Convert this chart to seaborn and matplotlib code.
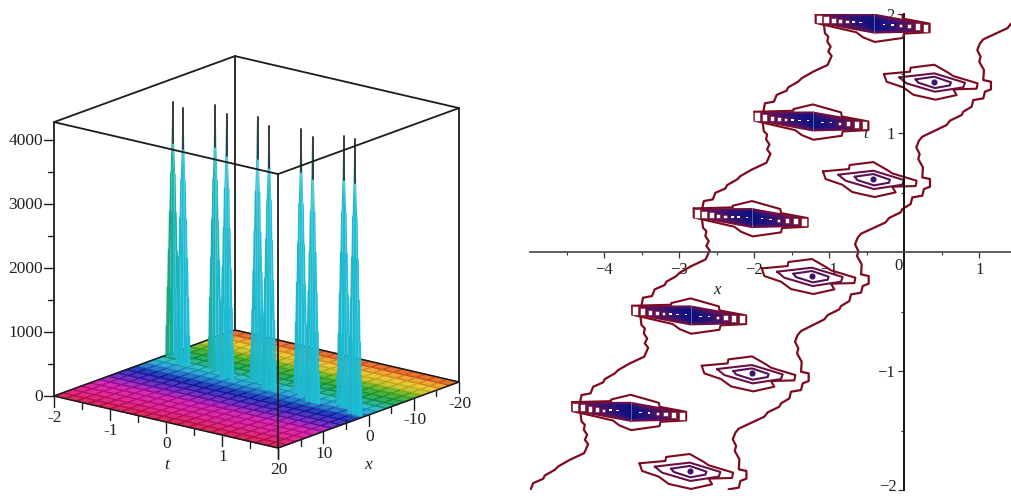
import numpy as np
import matplotlib
matplotlib.use("Agg")
import matplotlib.pyplot as plt
from matplotlib.collections import PolyCollection
import seaborn as sns

# ---------- data: 3D panel ----------
SPIKE_T = [-1.87, -1.52, -1.02, -0.654, -0.20, 0.167, 0.666, 1.03, 1.49, 1.85]
SPIKE_X = [-4.65, -2.57, -3.47, -1.50, -2.70, -0.70, -1.60, 0.35, -0.86, 1.16]
SPIKE_Z = [3990, 4020, 4140, 4125, 4140, 4130, 4156, 4160, 4230, 4310]
PROFILE_FRAC = [0.0, 0.12, 0.12, 0.27, 0.27, 0.42, 0.42, 0.57, 0.57, 0.72, 0.72, 0.84, 1.0]
PROFILE_HALF_T = [0.135, 0.128, 0.118, 0.110, 0.100, 0.090, 0.080, 0.070, 0.060, 0.050, 0.040, 0.024, 0.010]
T_MAJOR = [-2, -1, 0, 1, 2]
T_MINOR = [-1.5, -0.5, 0.5, 1.5]
X_MAJOR = [20, 10, 0, -10, -20]
X_MINOR = [15, 5, -5, -15]
Z_MAJOR = [0, 1000, 2000, 3000, 4000]
Z_MINOR = [500, 1500, 2500, 3500]
T_LABELS = ["-2", "-1", "0", "1", "20"]
X_LABELS = ["", "10", "0", "-10", "-20"]
Z_TOP = 4280
N_CELLS = 20
HUE_STOPS = [0.0, 0.12, 0.24, 0.33, 0.42, 0.50, 0.56, 0.61, 0.68, 0.76, 0.83, 0.89, 0.95, 1.0]
HUE_COLORS = ["#cc0c38", "#d80c80", "#c80ca8", "#5a14b8", "#0c1cb0", "#1480cc", "#18bcdc",
              "#14aa8c", "#10a040", "#38ac18", "#c8c018", "#ecc020", "#ec7c18", "#dc4018"]

# ---------- data: contour panel ----------
HIGH_X = [-0.404, -1.22, -2.03, -2.85, -3.65]
HIGH_T = [1.922, 1.10, 0.288, -0.53, -1.34]
LOW_X = [0.40, -0.413, -1.23, -2.03, -2.86]
LOW_T = [1.431, 0.613, -0.202, -1.02, -1.84]
RIDGE_EXTRA_HIGH = (-4.46, -2.155)
RIDGE_EXTRA_LOW = (1.213, 2.246)

# contour shapes, offsets from the peak in x / t units
def dxv(v): return np.array(v) / 225.0
def dtv(v): return -np.array(v) / 357.0

RIDGE_L_DX = dxv([-150, -147, -137, -140, -130, -137, -127, -139, -182, -217, -227, -257, -262, -292, -300, -327, -332])
RIDGE_L_DT = dtv([5, 30, 40, 55, 70, 85, 98, 125, 145, 165, 175, 192, 202, 215, 235, 240, 265])
RIDGE_R_DX = dxv([147, 137, 129, 139, 135, 149, 147, 170, 170, 152, 147, 117, 112, 87, 82, 47, 37])
RIDGE_R_DT = dtv([-127, -115, -95, -75, -60, -35, -5, 0, 23, 30, 50, 55, 75, 90, 100, 117, 130])

LOW_OUTER_DX = dxv([-151, -73, -71, 0, 42, 57, 130, 127, 57, 67, 4, -63, -93, -143, -151])
LOW_OUTER_DT = dtv([-23, -30, -42, -51, -27, -17, 5, 21, 23, 40, 54, 39, 17, 0, -23])
LOW_MID_DX = dxv([-105, 0, 92, 87, 2, -83, -105])
LOW_MID_DT = dtv([-13, -25, 3, 17, 30, 5, -13])
LOW_IN_DX = dxv([-56, 0, 50, 47, 2, -48, -56])
LOW_IN_DT = dtv([-7, -15, 2, 11, 19, 3, -7])

HIGH_OUTER_DX = dxv([-175, -58, -58, 0, 85, 87, 167, 167, 90, 87, 2, -33, -53, -175, -175])
HIGH_OUTER_DT = dtv([-28, -31, -36, -50, -26, -14, 1, 27, 31, 44, 56, 42, 27, -1, -28])
SPINDLE_DX = dxv([-175, 0, 167, 167, 0, -175])
SPINDLE_DT = dtv([-28, -29, 1, 27, 31, -1])
BOX_DX = dxv([-166, -144, -122, -101, -81, -60, -40, -15, 30, 55, 80, 105, 130, 155])
BOX_DT = dtv([-13, -11, -8, -6, -4, -3, -2, -1, 3, 5, 7, 8, 10, 13])
BOX_W = dxv([18, 16, 14, 12, 10, 9, 8, 6, 8, 8, 10, 13, 15, 17])
BOX_H = np.abs(dtv([26, 21, 17, 13, 9, 6, 4, 2, 3, 4, 9, 14, 19, 24]))

XT_TICKS = [-4, -3, -2, -1, 1]
XT_LABELS = ["\u22124", "\u22123", "\u22122", "\u22121", "1"]
YT_TICKS = [-2, -1, 1, 2]
YT_LABELS = ["", "\u22121", "1", "2"]

# ---------- style ----------
sns.set_theme(style="white")
plt.rcParams["font.family"] = ["Liberation Serif", "DejaVu Serif"]
TXT = "#222222"
EDGE = "#1c1c1c"

fig = plt.figure(figsize=(10.11, 4.96), dpi=100)
fig.patch.set_facecolor("white")

# ---------- left: orthographic box ----------
ax3 = fig.add_axes([0, 0, 510 / 1011, 1])
ax3.set_xlim(0, 510)
ax3.set_ylim(496, 0)
ax3.axis("off")


def proj(t, x, z=0.0):
    a = (np.asarray(t, float) + 2) / 4
    b = (20 - np.asarray(x, float)) / 40
    return 54 + 224 * a + 181 * b, 396 + 52 * a - 66 * b - 0.064 * np.asarray(z, float)


cmap = matplotlib.colors.LinearSegmentedColormap.from_list("hue", list(zip(HUE_STOPS, HUE_COLORS)))


def line3(ts, xs, zs, **kw):
    px, py = proj(ts, xs, zs)
    ax3.plot(px, py, solid_capstyle="round", **kw)


# back box edges
line3([-2, -2], [-20, -20], [0, Z_TOP], color=EDGE, lw=1.3, zorder=1)

# floor
tg = np.linspace(-2, 2, N_CELLS + 1)
xg = np.linspace(20, -20, N_CELLS + 1)
polys, faces, edges = [], [], []
for i in range(N_CELLS):
    for j in range(N_CELLS):
        ts = [tg[i], tg[i + 1], tg[i + 1], tg[i]]
        xs = [xg[j], xg[j], xg[j + 1], xg[j + 1]]
        px, py = proj(ts, xs)
        polys.append(np.column_stack([px, py]))
        c = np.array(cmap((j + 0.5) / N_CELLS))
        faces.append(np.r_[c[:3] * 0.86 + 0.14, 1])
        edges.append(np.r_[c[:3] * 0.88, 1])
ax3.add_collection(PolyCollection(polys, facecolors=faces, edgecolors=edges, linewidths=0.9, zorder=2))

# spikes, back to front
order = list(np.argsort([proj(t, x)[1] for t, x in zip(SPIKE_T, SPIKE_X)]))
frac = np.array(PROFILE_FRAC)
half = np.array(PROFILE_HALF_T)
for k in order:
    t0, x0, zp = SPIKE_T[k], SPIKE_X[k], SPIKE_Z[k]
    base = np.array(cmap(max((20 - x0) / 40, 0.565)))[:3]
    strips = [(-1.0, -0.45, base * 0.9 + 0.05), (-0.45, 0.05, base * 0.8 + np.array([0.02, 0.16, 0.14])),
              (0.05, 0.55, np.array([0.13, 0.72, 0.84])), (0.55, 1.0, base * 0.7 + np.array([0.06, 0.24, 0.27]))]
    for lo, hi, col in strips:
        ts = np.r_[t0 + lo * half, (t0 + hi * half)[::-1]]
        zs = np.r_[frac * zp, (frac * zp)[::-1]]
        px, py = proj(ts, x0, zs)
        ax3.fill(px, py, color=np.clip(col, 0, 1), lw=0, zorder=3 + 0.01 * order.index(k))
    line3([t0, t0], [x0, x0], [0.84 * zp, zp], color="#3a3a3a", lw=1.4, zorder=3.5)

# box edges in front
for (a, b) in [((-2, 20), (2, 20)), ((2, 20), (2, -20)), ((2, -20), (-2, -20)), ((-2, -20), (-2, 20))]:
    line3([a[0], b[0]], [a[1], b[1]], [Z_TOP, Z_TOP], color=EDGE, lw=1.3, zorder=5)
    line3([a[0], b[0]], [a[1], b[1]], [0, 0], color=EDGE, lw=1.1, zorder=2.5)
for t0, x0 in [(-2, 20), (2, 20), (2, -20)]:
    line3([t0, t0], [x0, x0], [0, Z_TOP], color=EDGE, lw=1.3, zorder=5)

# axis ticks and labels
for z in Z_MAJOR + Z_MINOR:
    px, py = proj(-2, 20, z)
    ax3.plot([px - (10 if z in Z_MAJOR else 6), px], [py, py], color=EDGE, lw=1.0, zorder=5)
for z in Z_MAJOR:
    px, py = proj(-2, 20, z)
    ax3.text(px - 11, py + 1, str(z), ha="right", va="center", fontsize=12.5, color=TXT)
for t, lab in zip(T_MAJOR, T_LABELS):
    px, py = proj(t, 20)
    ax3.plot([px, px], [py, py + 11], color=EDGE, lw=1.0, zorder=5)
    ax3.text(px + 1, py + 22, lab, ha="center", va="center", fontsize=12.5, color=TXT)
for t in T_MINOR:
    px, py = proj(t, 20)
    ax3.plot([px, px], [py, py + 6], color=EDGE, lw=1.0, zorder=5)
for x, lab in zip(X_MAJOR, X_LABELS):
    px, py = proj(2, x)
    ax3.plot([px, px], [py, py + 11], color=EDGE, lw=1.0, zorder=5)
    ax3.text(px + 1, py + 22, lab, ha="center", va="center", fontsize=12.5, color=TXT)
for x in X_MINOR:
    px, py = proj(2, x)
    ax3.plot([px, px], [py, py + 6], color=EDGE, lw=1.0, zorder=5)
px, py = proj(0, 20)
ax3.text(px + 1, py + 43, "t", ha="center", va="center", fontsize=12.5, style="italic", color=TXT)
px, py = proj(2, 0)
ax3.text(px, py + 50, "x", ha="center", va="center", fontsize=12.5, style="italic", color=TXT)

# ---------- right: contour map ----------
ax = fig.add_axes([530 / 1011, 6 / 496, 481 / 1011, 476 / 496])
ax.patch.set_alpha(0)
RED = "#7d0a1e"

lx = np.concatenate([c + RIDGE_L_DX for c in HIGH_X + [RIDGE_EXTRA_HIGH[0]]])
lt = np.concatenate([c + RIDGE_L_DT for c in HIGH_T + [RIDGE_EXTRA_HIGH[1]]])
rx = np.concatenate([c + RIDGE_R_DX for c in [RIDGE_EXTRA_LOW[0]] + LOW_X])
rt = np.concatenate([c + RIDGE_R_DT for c in [RIDGE_EXTRA_LOW[1]] + LOW_T])
for xs, ts in [(lx, lt), (rx, rt)]:
    sns.lineplot(x=xs, y=ts, sort=False, estimator=None, color=RED, lw=1.6, ax=ax, legend=False, zorder=1)

for x0, t0 in zip(LOW_X, LOW_T):
    ax.plot(x0 + LOW_OUTER_DX, t0 + LOW_OUTER_DT, color=RED, lw=1.5, zorder=2)
    ax.plot(x0 + LOW_MID_DX, t0 + LOW_MID_DT, color="#6a1040", lw=1.5, zorder=2)
    ax.plot(x0 + LOW_IN_DX, t0 + LOW_IN_DT, color="#561058", lw=1.5, zorder=2)
    ax.plot([x0], [t0], "o", ms=3.4, color="#40106e", zorder=2)

scales = [1, 0.85, 0.7, 0.55, 0.4, 0.25, 0.12]
shades = sns.blend_palette(["#7a1030", "#5a1060", "#2a1478", "#101080"], n_colors=len(scales))
for x0, t0 in zip(HIGH_X, HIGH_T):
    ax.plot(x0 + HIGH_OUTER_DX, t0 + HIGH_OUTER_DT, color=RED, lw=1.5, zorder=3)
    for s, col in zip(scales, shades):
        ax.fill(x0 + s * SPINDLE_DX, t0 + SPINDLE_DT * (0.6 + 0.4 * s), color=col, lw=0, zorder=3.1)
    for dx, dt, w, h in zip(BOX_DX, BOX_DT, BOX_W, BOX_H):
        ax.fill([x0 + dx - w / 2, x0 + dx + w / 2, x0 + dx + w / 2, x0 + dx - w / 2],
                [t0 + dt - h / 2, t0 + dt - h / 2, t0 + dt + h / 2, t0 + dt + h / 2],
                facecolor="white", edgecolor=RED, lw=0.4 if h > 0.02 else 0, zorder=3.2)
    ax.plot([x0, x0], [t0 + SPINDLE_DT[1], t0 + SPINDLE_DT[4]], color="#8a8a9a", lw=0.5, zorder=3.3)

ax.set_xlim(-4.99, 1.423)
ax.set_ylim(-2, 2)
ax.set_xlabel("")
ax.set_ylabel("")
for side in ("top", "right"):
    ax.spines[side].set_visible(False)
ax.spines["bottom"].set_position(("data", 0))
ax.spines["left"].set_position(("data", 0))
ax.spines["bottom"].set_color("#444444")
ax.spines["bottom"].set_linewidth(1.2)
ax.spines["left"].set_color("black")
ax.spines["left"].set_linewidth(1.3)
ax.set_xticks(XT_TICKS)
ax.set_xticklabels(XT_LABELS)
ax.set_yticks(YT_TICKS)
ax.set_yticklabels(YT_LABELS)
ax.set_xticks([-4.5, -3.5, -2.5, -1.5, -0.5, 0.5], minor=True)
ax.set_yticks([-1.5, -0.5, 0.5, 1.5], minor=True)
ax.tick_params(axis="both", which="major", direction="out", length=4, width=0.9, color="#333333",
               labelsize=12, labelcolor=TXT, bottom=True, left=True, pad=3)
ax.tick_params(axis="both", which="minor", direction="out", length=2, width=0.8, color="#333333",
               bottom=True, left=True)
ax.text(-0.08, -0.115, "0", ha="center", va="center", fontsize=12, color=TXT)
ax.text(-2.5, -0.32, "x", ha="center", va="center", fontsize=12, style="italic", color=TXT)
ax.text(-0.52, 0.99, "t", ha="center", va="center", fontsize=12, style="italic", color=TXT)
ax.text(-0.095, -1.972, "\u22122", ha="right", va="center", fontsize=12, color=TXT, clip_on=False)

fig.savefig("out.png", dpi=100, facecolor="white")
